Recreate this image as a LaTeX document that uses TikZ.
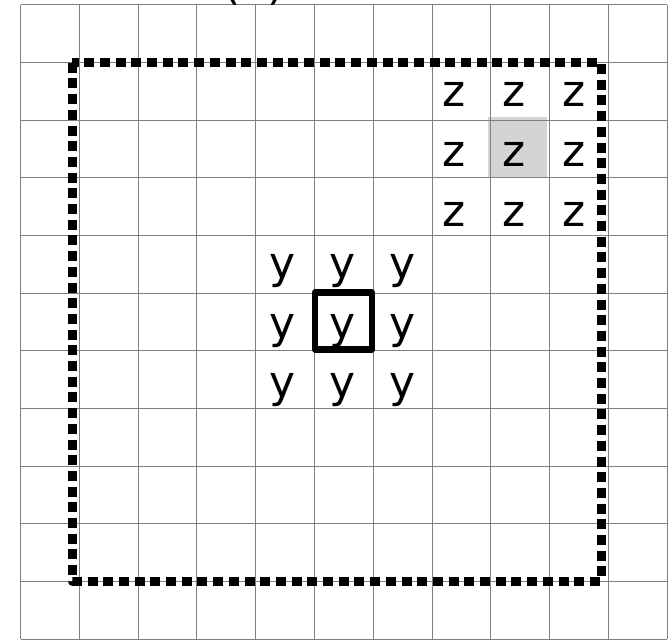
\documentclass[tikz,border=0pt]{standalone}
\usepackage{fontspec}
\setmainfont{DejaVu Sans}
\begin{document}
\begin{tikzpicture}[x=1pt,y=-1pt,
  gridline/.style={draw=black!50, line width=1pt},
  letter/.style={font=\fontsize{44}{48}\selectfont, inner sep=0pt, anchor=base},
  framebox/.style={draw=black, line width=9pt, dash pattern=on 10pt off 5.7pt, line join=round},
  focusbox/.style={draw=black, line width=6.5pt, line join=round, inner sep=0pt, minimum width=57pt, minimum height=56.6pt},
  shadecell/.style={fill=black!17, inner sep=0pt, minimum width=59pt, minimum height=60pt}]
\useasboundingbox (0,0) rectangle (669,642);
\clip (0,0) rectangle (669,642);
\fill[white] (0,0) rectangle (669,642);
% shaded cell
\node[shadecell] (shade) at (517.5,147) {};
% grid
\foreach \i in {0,...,11} {
  \draw[gridline] ({20.5+58.8*\i},5) -- ({20.5+58.8*\i},639);
  \draw[gridline] (20.5,{5+57.65*\i}) -- (667.3,{5+57.65*\i});
}
% caption, mostly cut off at the top
\node[letter] (cap) at (254,-0.5) {(a)};
% dotted frame
\draw[framebox] (72,62.7) rectangle (601,581);
% y letters
\foreach \c/\x in {1/283,2/343,3/403} {
  \foreach \r/\b in {1/278,2/338,3/397} {
    \node[letter] (y\r\c) at (\x,\b) {y};
  }
}
% z letters
\foreach \c/\x in {1/454,2/514,3/574} {
  \foreach \r/\b in {1/106,2/166,3/226} {
    \node[letter] (z\r\c) at (\x,\b) {z};
  }
}
% focus square
\node[focusbox] (focus) at (343.5,321) {};
\end{tikzpicture}
\end{document}
